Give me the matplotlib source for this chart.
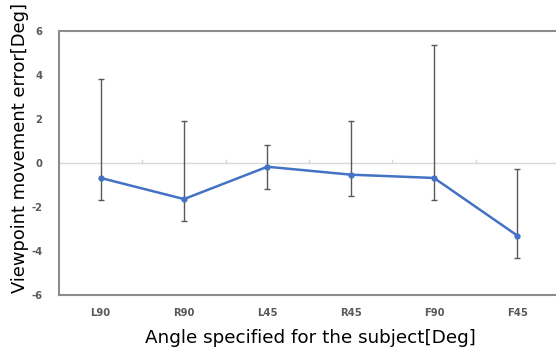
import matplotlib
matplotlib.use("Agg")
import matplotlib.pyplot as plt
import numpy as np

categories = ["L90", "R90", "L45", "R45", "F90", "F45"]
means = [-0.68, -1.64, -0.17, -0.53, -0.68, -3.30]
upper = [3.83, 1.93, 0.83, 1.93, 5.36, -0.29]
lower = [-1.70, -2.63, -1.18, -1.50, -1.68, -4.32]
yticks = [-6, -4, -2, 0, 2, 4, 6]

fig = plt.figure(figsize=(5.56, 3.55), dpi=100)
ax = fig.add_axes([59/556, 1-295/355, 500/556, 264/355])

x = np.arange(len(categories))
m = np.array(means)
yerr = [m - np.array(lower), np.array(upper) - m]

ax.axhline(0, color="#d9d9d9", lw=1.0, zorder=1)
for b in x[:-1] + 0.5:
    ax.plot([b, b], [0, 0.13], color="#d9d9d9", lw=1.0, zorder=1)

ax.errorbar(x, m, yerr=yerr, fmt="none", ecolor="#595959", elinewidth=1.0,
            capsize=2.5, capthick=1.0, zorder=2)
ax.plot(x, m, color="#4472C4", lw=1.8, marker="o", ms=3.5, zorder=3)

ax.set_xlim(-0.5, len(categories) - 0.5)
ax.set_ylim(-6, 6)
ax.set_yticks(yticks)
ax.set_yticklabels([str(t) for t in yticks])
ax.set_xticks(x)
ax.set_xticklabels(categories)
ax.tick_params(axis="both", length=0, labelsize=7.2, labelcolor="#595959")
ax.tick_params(axis="y", pad=12)
ax.tick_params(axis="x", pad=9)
for lab in ax.get_xticklabels() + ax.get_yticklabels():
    lab.set_fontweight("bold")

for s in ["top", "left", "bottom"]:
    ax.spines[s].set_color("#8c8c8c")
    ax.spines[s].set_linewidth(1.5)
ax.spines["right"].set_visible(False)

ax.set_xlabel("Angle specified for the subject[Deg]", fontsize=13.2, color="black")
ax.xaxis.set_label_coords((310 - 59) / 500, (295 - 329) / 264)
ax.set_ylabel("Viewpoint movement error[Deg]", fontsize=12.9, color="black")
ax.yaxis.set_label_coords((29 - 59) / 500, (295 - 148) / 264)

fig.savefig("out.png", dpi=100)
